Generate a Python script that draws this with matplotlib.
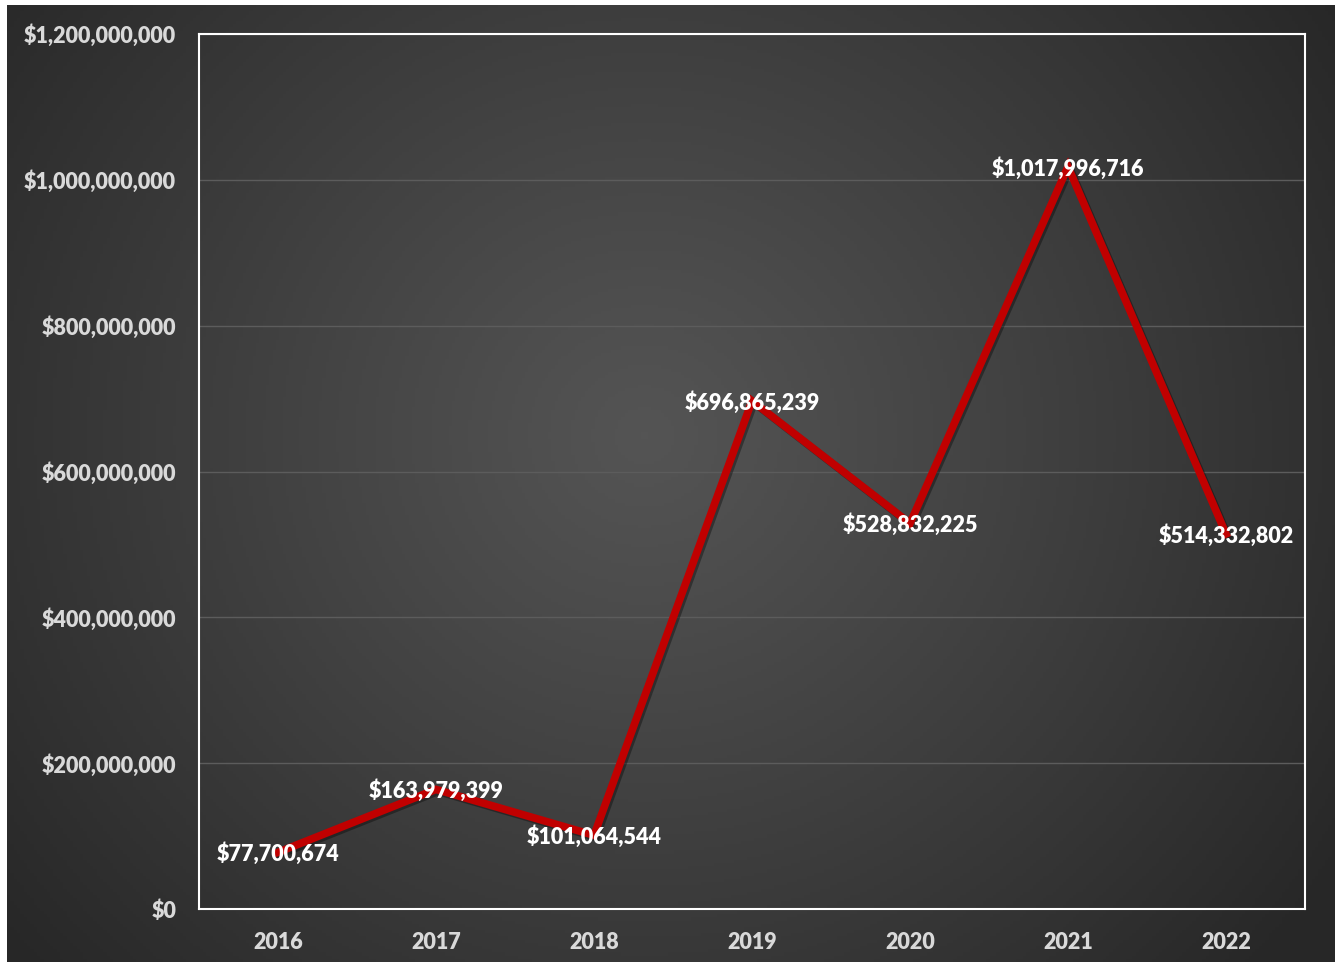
import numpy as np
import matplotlib
matplotlib.use("Agg")
import matplotlib.pyplot as plt
import matplotlib.patheffects as pe
from matplotlib.ticker import FuncFormatter

years = ["2016", "2017", "2018", "2019", "2020", "2021", "2022"]
values = [77700674, 163979399, 101064544, 696865239, 528832225, 1017996716, 514332802]
yticks = [0, 200000000, 400000000, 600000000, 800000000, 1000000000, 1200000000]

FONT = "Lato"
WEIGHT = 800
SIZE = 15.5

W, H = 1343, 967
fig = plt.figure(figsize=(W / 100, H / 100), dpi=100, facecolor="white")

# dark radial-gradient background
bx0, bx1, by0, by1 = 7, 1335, 5, 962
bg = fig.add_axes([bx0 / W, 1 - by1 / H, (bx1 - bx0) / W, (by1 - by0) / H])
gx = np.linspace(0, 1, 400)
gy = np.linspace(0, 1, 300)
X, Y = np.meshgrid(gx, gy)
cx, cy = 0.48, 0.45
r = np.sqrt(((X - cx) * 1.0) ** 2 + ((Y - cy) * 0.75) ** 2)
r = np.clip(r / 0.62, 0, 1)
lo, hi = 0.155, 0.33
val = hi - (hi - lo) * r ** 1.1
img = np.dstack([val, val, val])
bg.imshow(img, extent=[0, 1, 0, 1], aspect="auto", origin="upper")
bg.set_axis_off()
bg.set_zorder(-10)

ax = fig.add_axes([199 / W, 1 - 909 / H, (1305 - 199) / W, (909 - 34) / H])
ax.patch.set_alpha(0)
x = np.arange(len(years))
ax.plot(x, values, color="#C00000", lw=5.5, solid_joinstyle="miter", zorder=3,
        path_effects=[pe.SimpleLineShadow(offset=(1.5, -1.5), shadow_color="black", alpha=0.35),
                      pe.Normal()])
for xi, v in zip(x, values):
    ax.annotate(f"${v:,.0f}", (xi, v), xytext=(0, -1.2), textcoords="offset points",
                ha="center", va="center", color="white",
                family=FONT, fontweight=WEIGHT, fontsize=SIZE, zorder=4)

ax.set_xlim(-0.5, len(years) - 0.5)
ax.set_ylim(0, 1200000000)
ax.set_yticks(yticks)
ax.yaxis.set_major_formatter(FuncFormatter(lambda v, p: f"${v:,.0f}"))
ax.set_xticks(x)
ax.set_xticklabels(years)
ax.grid(axis="y", color="#5c5c5c", lw=1.0, zorder=1)
ax.tick_params(length=0, colors="#d9d9d9")
ax.tick_params(axis="y", pad=16.5)
ax.tick_params(axis="x", pad=16.5)
for lab in ax.get_xticklabels() + ax.get_yticklabels():
    lab.set_family(FONT)
    lab.set_fontweight(WEIGHT)
    lab.set_fontsize(SIZE)
for s in ax.spines.values():
    s.set_color("white")
    s.set_linewidth(1.5)

fig.savefig("out.png", dpi=100, facecolor="white")
